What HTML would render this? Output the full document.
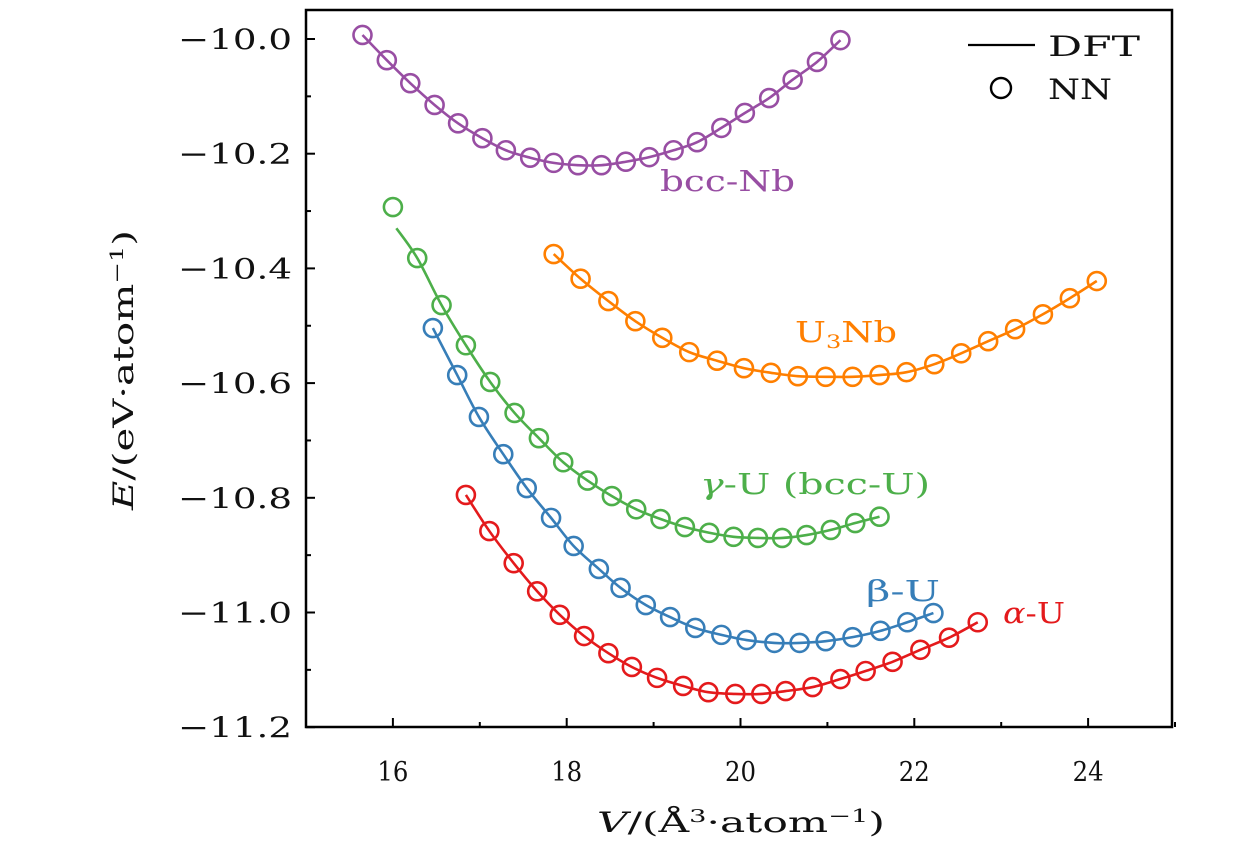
<!DOCTYPE html>
<html><head><meta charset="utf-8"><style>
html,body{margin:0;padding:0;background:#fff;}
svg{display:block;font-family:"DejaVu Serif","Liberation Serif",serif;}
</style></head><body>
<svg id="chart" width="1260" height="850" viewBox="0 0 1260 850"></svg>
<script>
const xTicks = [16, 18, 20, 22, 24];
const xTickLabels = ["16", "18", "20", "22", "24"];
const yTicks = [-10.0, -10.2, -10.4, -10.6, -10.8, -11.0, -11.2];
const yTickLabels = ["\u221210.0", "\u221210.2", "\u221210.4", "\u221210.6", "\u221210.8", "\u221211.0", "\u221211.2"];

const nbV = [15.65,15.93,16.20,16.48,16.75,17.03,17.30,17.58,17.85,18.13,18.40,18.68,18.95,19.23,19.50,19.78,20.05,20.33,20.60,20.88,21.15];
const nbE = [-9.993,-10.037,-10.077,-10.115,-10.147,-10.173,-10.194,-10.207,-10.216,-10.220,-10.220,-10.214,-10.206,-10.194,-10.180,-10.155,-10.129,-10.103,-10.071,-10.040,-10.002];

const u3nbV = [17.85,18.16,18.48,18.79,19.10,19.41,19.73,20.04,20.35,20.66,20.98,21.29,21.60,21.91,22.23,22.54,22.85,23.16,23.48,23.79,24.10];
const u3nbE = [-10.375,-10.418,-10.457,-10.492,-10.521,-10.546,-10.561,-10.574,-10.582,-10.588,-10.589,-10.589,-10.586,-10.581,-10.567,-10.548,-10.527,-10.506,-10.480,-10.452,-10.422];

const gammaV = [16.00,16.28,16.56,16.84,17.12,17.40,17.68,17.96,18.24,18.52,18.80,19.08,19.36,19.64,19.92,20.20,20.48,20.76,21.04,21.32,21.60];
const gammaE = [-10.293,-10.382,-10.464,-10.534,-10.598,-10.652,-10.696,-10.738,-10.770,-10.797,-10.820,-10.837,-10.851,-10.861,-10.868,-10.870,-10.870,-10.865,-10.856,-10.844,-10.833];
const gammaDftStartV = 16.04;
const gammaDftStartE = -10.33;

const betaV = [16.46,16.74,16.99,17.27,17.54,17.82,18.08,18.37,18.62,18.91,19.19,19.48,19.78,20.07,20.39,20.68,20.98,21.29,21.61,21.92,22.22];
const betaE = [-10.504,-10.586,-10.659,-10.724,-10.783,-10.835,-10.884,-10.924,-10.957,-10.987,-11.008,-11.027,-11.039,-11.048,-11.053,-11.053,-11.050,-11.043,-11.032,-11.017,-11.001];

const alphaV = [16.84,17.11,17.39,17.66,17.92,18.20,18.48,18.75,19.04,19.34,19.63,19.94,20.24,20.52,20.83,21.15,21.44,21.75,22.07,22.40,22.73];
const alphaE = [-10.795,-10.858,-10.914,-10.963,-11.004,-11.041,-11.071,-11.095,-11.114,-11.128,-11.139,-11.142,-11.142,-11.137,-11.130,-11.116,-11.102,-11.086,-11.065,-11.044,-11.017];

const L = 306, R = 1172, T = 10, B = 727;
const xMin = 15;
function sx(v){ return L + (v - xMin) * 86.9; }
function sy(e){ return 39 + (-10.0 - e) * 573.5; }

const svg = document.getElementById('chart');
const NS = 'http://www.w3.org/2000/svg';
function mk(tag, attrs, parent){
  const el = document.createElementNS(NS, tag);
  for (const k in attrs) el.setAttribute(k, attrs[k]);
  (parent || svg).appendChild(el);
  return el;
}

function smoothPath(pts){
  let d = 'M' + pts[0][0].toFixed(2) + ',' + pts[0][1].toFixed(2);
  for (let i = 0; i < pts.length - 1; i++){
    const p0 = pts[i-1] || pts[i], p1 = pts[i], p2 = pts[i+1], p3 = pts[i+2] || p2;
    const c1x = p1[0] + (p2[0]-p0[0])/6, c1y = p1[1] + (p2[1]-p0[1])/6;
    const c2x = p2[0] - (p3[0]-p1[0])/6, c2y = p2[1] - (p3[1]-p1[1])/6;
    d += ' C' + c1x.toFixed(2)+','+c1y.toFixed(2)+' '+c2x.toFixed(2)+','+c2y.toFixed(2)+' '+p2[0].toFixed(2)+','+p2[1].toFixed(2);
  }
  return d;
}

const seriesList = [
  {name:'bcc-nb', v:nbV, e:nbE, color:'#984ea3'},
  {name:'u3nb', v:u3nbV, e:u3nbE, color:'#ff7f00'},
  {name:'gamma-u', v:gammaV, e:gammaE, color:'#4daf4a', start:[gammaDftStartV, gammaDftStartE]},
  {name:'beta-u', v:betaV, e:betaE, color:'#377eb8'},
  {name:'alpha-u', v:alphaV, e:alphaE, color:'#e41a1c'}
];

seriesList.forEach(s => {
  const g = mk('g', {});
  
  
  let pts = s.v.map((v,i) => [sx(v), sy(s.e[i])]);
  if (s.start){ pts = [[sx(s.start[0]), sy(s.start[1])]].concat(pts.slice(1)); }
  const line = mk('path', {d: smoothPath(pts), fill:'none', stroke:s.color, 'stroke-width':2.6}, g);
  
  
  s.v.forEach((v,i) => {
    const c = mk('circle', {cx:sx(v), cy:sy(s.e[i]), r:9, fill:'none', stroke:s.color, 'stroke-width':2.6}, g);
    
    
  });
});

const frame = mk('rect', {x:L, y:T, width:R-L, height:B-T, fill:'none', stroke:'#000', 'stroke-width':2.5});



for (let v = 15; v <= 25; v++){
  const major = xTicks.includes(v);
  const t = mk('line', {x1:sx(v), x2:sx(v), y1:B, y2:B-(major?9:5), stroke:'#000', 'stroke-width':2});
  
  
}
xTicks.forEach((v,i) => {
  const t = mk('text', {x:sx(v), y:781, 'font-size':27, 'text-anchor':'middle', fill:'#111', textLength:31, lengthAdjust:'spacingAndGlyphs'});
  t.textContent = xTickLabels[i];
  
  
});
for (let k = 0; k <= 13; k++){
  const e = -9.9 - k*0.1;
  const major = (k % 2 === 1);
  const t = mk('line', {x1:L, x2:L+(major?9:5), y1:sy(e), y2:sy(e), stroke:'#000', 'stroke-width':2});
  
  
}
yTicks.forEach((e,i) => {
  const t = mk('text', {x:178, y:sy(e)+10, 'font-size':28, fill:'#111', textLength:114, lengthAdjust:'spacingAndGlyphs'});
  t.textContent = yTickLabels[i];
  
  
});

const xt = mk('text', {x:597, y:832, 'font-size':28, fill:'#111', textLength:288, lengthAdjust:'spacingAndGlyphs'});
xt.innerHTML = '<tspan font-style="italic">V</tspan>/(Å<tspan baseline-shift="super" font-size="18">3</tspan>·atom<tspan baseline-shift="super" font-size="18">−1</tspan>)';


const yt = mk('text', {x:-140, y:0, 'font-size':28, fill:'#111', transform:'translate(133,370) rotate(-90)', textLength:280, lengthAdjust:'spacingAndGlyphs'});
yt.innerHTML = '<tspan font-style="italic">E</tspan>/(eV·atom<tspan baseline-shift="super" font-size="18">−1</tspan>)';



function label(txt, x, y, w, color, name){
  const t = mk('text', {x:x, y:y, 'font-size':29, fill:color, textLength:w, lengthAdjust:'spacingAndGlyphs'});
  t.innerHTML = txt;
  
  
}
label('bcc-Nb', 660, 191, 135, '#984ea3', 'bcc-nb-label');
label('U<tspan font-size="19" dy="6">3</tspan><tspan dy="-6">Nb</tspan>', 795, 342, 102, '#ff7f00', 'u3nb-label');
label('<tspan font-style="italic">γ</tspan>-U (bcc-U)', 700, 494, 230, '#4daf4a', 'gamma-u-label');
label('β-U', 866, 601, 74, '#377eb8', 'beta-u-label');
label('<tspan font-style="italic">α</tspan>-U', 1003, 623, 62, '#e41a1c', 'alpha-u-label');

const lg = mk('g', {});


const l1 = mk('line', {x1:968, x2:1035, y1:45, y2:45, stroke:'#000', 'stroke-width':2.2}, lg);


const t1 = mk('text', {x:1048, y:56, 'font-size':28, fill:'#111', textLength:92, lengthAdjust:'spacingAndGlyphs'}, lg);
t1.textContent = 'DFT';


const c1 = mk('circle', {cx:1001, cy:88, r:10, fill:'none', stroke:'#000', 'stroke-width':2.4}, lg);


const t2 = mk('text', {x:1048, y:99, 'font-size':28, fill:'#111', textLength:64, lengthAdjust:'spacingAndGlyphs'}, lg);
t2.textContent = 'NN';


</script>
</body></html>
